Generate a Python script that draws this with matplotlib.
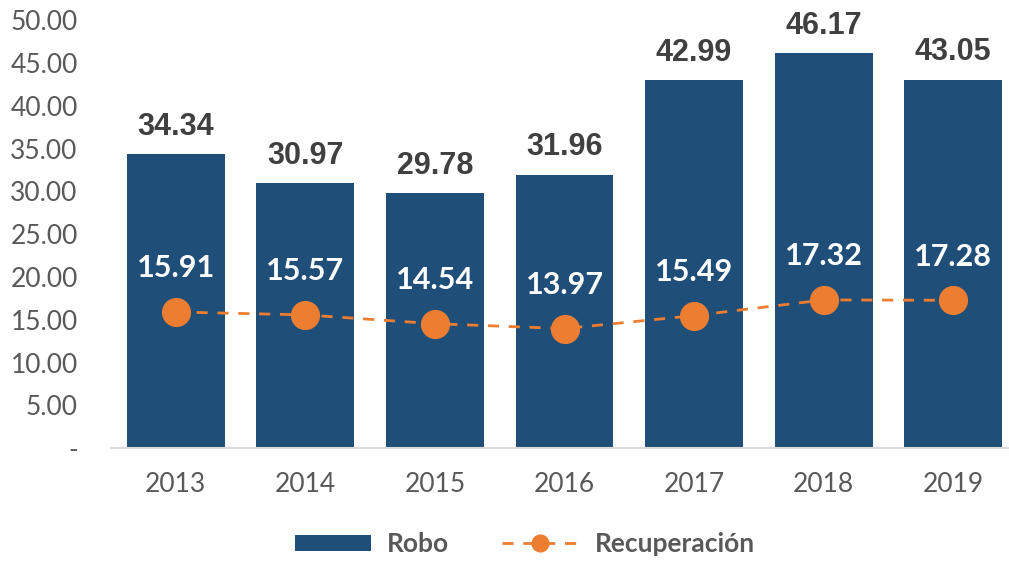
import matplotlib
matplotlib.use("Agg")
import matplotlib.pyplot as plt
import numpy as np

years = ["2013", "2014", "2015", "2016", "2017", "2018", "2019"]
robo = [34.34, 30.97, 29.78, 31.96, 42.99, 46.17, 43.05]
recuperacion = [15.91, 15.57, 14.54, 13.97, 15.49, 17.32, 17.28]
yticks = [0, 5, 10, 15, 20, 25, 30, 35, 40, 45, 50]

BLUE = "#1F4E79"
ORANGE = "#ED7D31"
GRAY = "#595959"

plt.rcParams['font.family'] = ['Lato', 'DejaVu Sans']

fig = plt.figure(figsize=(10.09, 5.63), dpi=100)
ax = fig.add_axes([0.11, 0.204, 0.89, 0.76])

x = np.arange(len(years))
bars = ax.bar(x, robo, width=0.755, color=BLUE, label="Robo", zorder=2)
line, = ax.plot(x, recuperacion, color=ORANGE, linestyle=(0, (4, 3.5)), linewidth=2,
                marker="o", markersize=20, label="Recuperación", zorder=3)

for xi, v in zip(x, robo):
    ax.annotate(f"{v:.2f}", (xi, v), xytext=(0, 14), textcoords="offset points",
                ha="center", va="baseline", fontsize=22, fontweight="bold",
                color="#404040", family="Liberation Sans")
for xi, v in zip(x, recuperacion):
    ax.annotate(f"{v:.2f}", (xi, v), xytext=(0, 25), textcoords="offset points",
                ha="center", va="baseline", fontsize=22, fontweight="bold", color="white")

ax.set_ylim(0, 50)
ax.set_xlim(-0.5, 6.43)
ax.set_yticks(yticks)
ax.set_yticklabels(["-" if t == 0 else f"{t:.2f}" for t in yticks])
ax.set_xticks(x)
ax.set_xticklabels(years)
ax.tick_params(axis="both", length=0, labelsize=19, labelcolor=GRAY)
ax.tick_params(axis="x", pad=17)
ax.tick_params(axis="y", pad=24)
for s in ["top", "right", "left"]:
    ax.spines[s].set_visible(False)
ax.spines["bottom"].set_color("#D9D9D9")
ax.spines["bottom"].set_linewidth(1.5)

leg = fig.legend([bars, line], ["Robo", "Recuperación"], loc="lower center",
                 bbox_to_anchor=(0.52, -0.03), ncol=2, frameon=False,
                 handlelength=2.9, handleheight=0.55, columnspacing=2.0, handletextpad=0.6,
                 prop={"weight": "bold", "size": 19}, markerscale=0.6)
for t in leg.get_texts():
    t.set_color(GRAY)

fig.savefig("out.png", dpi=100)
